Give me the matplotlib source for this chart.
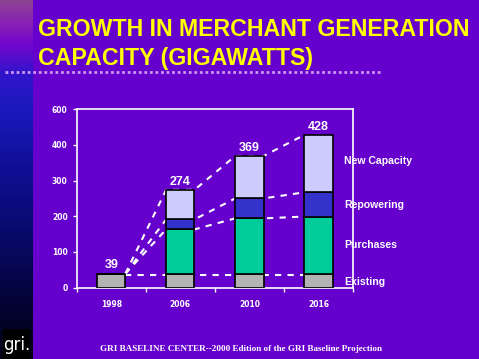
import numpy as np
import matplotlib
matplotlib.use("Agg")
import matplotlib.pyplot as plt
from matplotlib.colors import LinearSegmentedColormap

# ---- data ----
years = ["1998", "2006", "2010", "2016"]
existing = [39, 39, 39, 39]
purchases = [0, 124, 155, 160]
repowering = [0, 28, 56, 68]
new_capacity = [0, 83, 119, 161]
totals = [39, 274, 369, 428]
series_names = ["Existing", "Purchases", "Repowering", "New Capacity"]
y_ticks = [0, 100, 200, 300, 400, 500]
y_tick_labels = ["0", "100", "200", "300", "400", "600"]

BG = "#6600CC"
W, H = 479, 359
fig = plt.figure(figsize=(W / 100, H / 100), dpi=100, facecolor=BG)

# left gradient strip
sax = fig.add_axes([0, 0, 33 / W, 1])
stops = [(0.0, "#8C4494"), (0.06, "#8A22B4"), (0.12, "#7406CC"), (0.2, "#3414CC"),
         (0.3, "#1A1ABE"), (0.45, "#10109A"), (0.6, "#0B0B78"), (0.75, "#060650"),
         (0.88, "#03032C"), (1.0, "#000014")]
cmap = LinearSegmentedColormap.from_list("strip", stops)
grad = np.linspace(0, 1, 256).reshape(-1, 1)
sax.imshow(grad, aspect="auto", cmap=cmap, extent=[0, 1, 1, 0])
sax.set_xlim(0, 1); sax.set_ylim(1, 0)
sax.axis("off")

# logo
lax = fig.add_axes([3 / W, 0, 27 / W, 30 / H])
lax.set_facecolor("black")
lax.set_xticks([]); lax.set_yticks([])
for s in lax.spines.values():
    s.set_visible(False)
lax.text(0.5, 0.45, "gri.", color="white", fontsize=12, ha="center", va="center",
         family="Liberation Sans Narrow", transform=lax.transAxes)

# title
fig.text(38 / W, 1 - 36 / H, "GROWTH IN MERCHANT GENERATION", color="#FFFF00",
         fontsize=16.7, fontweight="bold", family="Liberation Sans", va="baseline", ha="left")
fig.text(38 / W, 1 - 64.5 / H, "CAPACITY (GIGAWATTS)", color="#FFFF00",
         fontsize=16.7, fontweight="bold", family="Liberation Sans", va="baseline", ha="left")
# dotted rule
fig.add_artist(plt.Line2D([5 / W, 381 / W], [1 - 71.5 / H, 1 - 71.5 / H], color="#CC99EE",
                          lw=2, linestyle=(0, (1, 1)), transform=fig.transFigure))

# chart
ax = fig.add_axes([76.7 / W, 71.5 / H, (353 - 76.7) / W, (287.5 - 109.3) / H])
ax.set_facecolor("none")
x = np.arange(len(years))
w = 0.41
colors = ["#B3B3B3", "#00CC99", "#3333CC", "#CCCCFF"]
bottom = np.zeros(len(years))
levels = []
for vals, c in zip([existing, purchases, repowering, new_capacity], colors):
    vals = np.array(vals, dtype=float)
    ax.bar(x, vals, w, bottom=bottom, color=c, edgecolor="black", linewidth=1.2, zorder=3)
    bottom = bottom + vals
    levels.append(bottom.copy())

# dashed connector lines
dash = dict(color="white", lw=1.5, linestyle=(0, (3, 3)), zorder=2)
ax.plot([x[0] + w / 2, x[-1] - w / 2], [35, 35], **dash)
for lev in levels[1:]:
    px = [x[0] + w / 2]
    py = [existing[0]]
    for i in range(1, len(x)):
        px += [x[i] - w / 2, x[i] + w / 2]
        py += [lev[i], lev[i]]
    ax.plot(px[:-1], py[:-1], **dash)

for xi, t in zip(x, totals):
    top = levels[-1][xi]
    ax.text(xi, top + 6, str(t), color="white", fontsize=9, fontweight="bold",
            ha="center", va="bottom", family="Liberation Sans")

ax.set_xlim(-0.5, 3.5)
ax.set_ylim(0, 500)
ax.set_yticks(y_ticks)
ax.set_yticklabels(y_tick_labels)
ax.set_xticks(np.arange(-0.5, 4, 1))
ax.set_xticklabels([])
ax.set_xticks(x, minor=True)
ax.set_xticklabels(years, minor=True)
ax.tick_params(axis="both", which="major", colors="white", length=3, width=1,
               labelsize=5.5, labelcolor="white", direction="out")
ax.tick_params(axis="x", which="minor", length=0, pad=9, labelsize=5.5, labelcolor="white")
for lab in ax.get_yticklabels() + ax.get_xticklabels(minor=True):
    lab.set_fontweight("bold")
for s in ax.spines.values():
    s.set_color("white")
    s.set_linewidth(1.2)

# series labels on the right
label_y = {"New Capacity": 161, "Repowering": 205, "Purchases": 245, "Existing": 281.7}
for name in series_names[::-1]:
    fig.text(344 / W, 1 - label_y[name] / H, name, color="white", fontsize=7.6,
             fontweight="bold", family="Liberation Sans", va="center", ha="left")

# footer
fig.text(241.5 / W, 1 - 349 / H, "GRI BASELINE CENTER--2000 Edition of the GRI Baseline Projection",
         color="white", fontsize=6.6, fontweight="bold", family="Liberation Serif",
         ha="center", va="center")

fig.savefig("out.png", dpi=100, facecolor=BG)
